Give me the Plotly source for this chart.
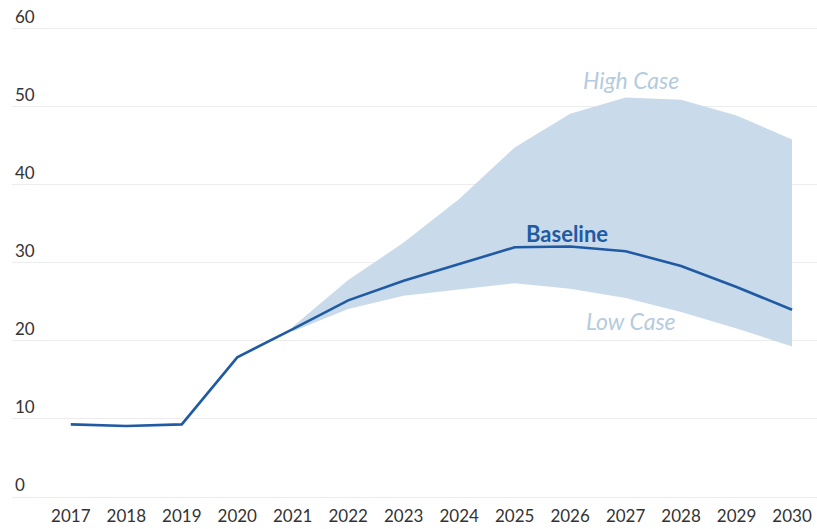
import plotly.graph_objects as go

years = list(range(2017, 2031))
baseline = [9.3, 9.1, 9.3, 17.9, 21.5, 25.2, 27.7, 29.9, 32.0, 32.1, 31.5, 29.6, 26.9, 24.0]
band_years = list(range(2021, 2031))
high_case = [21.8, 27.8, 32.6, 38.2, 44.8, 49.1, 51.2, 50.9, 48.9, 45.8]
low_case = [21.2, 24.1, 25.8, 26.6, 27.4, 26.7, 25.5, 23.7, 21.6, 19.3]
y_ticks = [0, 10, 20, 30, 40, 50, 60]

LINE = "#1f5aa3"
BAND = "#c9dbeb"
CASE_TXT = "#b5cbe0"
FONT = "Lato"

fig = go.Figure()
fig.add_trace(go.Scatter(x=band_years, y=low_case, mode="lines",
                         line=dict(width=0, color=BAND), hoverinfo="skip", showlegend=False))
fig.add_trace(go.Scatter(x=band_years, y=high_case, mode="lines", fill="tonexty",
                         fillcolor=BAND, line=dict(width=0, color=BAND),
                         hoverinfo="skip", showlegend=False))
fig.add_trace(go.Scatter(x=years, y=baseline, mode="lines",
                         line=dict(width=2.6, color=LINE), showlegend=False))

fig.add_annotation(x=2027.1, y=53.4, text="<i>High Case</i>", showarrow=False,
                   font=dict(family=FONT, size=23, color=CASE_TXT))
fig.add_annotation(x=2025.95, y=33.8, text="<b>Baseline</b>", showarrow=False,
                   font=dict(family=FONT, size=22, color=LINE))
fig.add_annotation(x=2027.1, y=22.6, text="<i>Low Case</i>", showarrow=False,
                   font=dict(family=FONT, size=23, color=CASE_TXT))

fig.update_layout(
    width=817, height=529,
    margin=dict(l=12, r=0, t=3, b=32, pad=0),
    plot_bgcolor="white", paper_bgcolor="white",
    font=dict(family=FONT, size=17, color="#333333"),
)
fig.update_xaxes(range=[2015.94, 2030.45], tickvals=years, automargin=False,
                 ticktext=[str(y) for y in years], showgrid=False, zeroline=False,
                 showline=False, ticks="", ticklabelstandoff=7,
                 tickfont=dict(size=17, color="#333333"))
fig.update_yaxes(range=[0, 63.3], tickvals=y_ticks, ticktext=[str(v) for v in y_ticks],
                 ticklabelposition="inside top", showgrid=True, gridcolor="#ececec",
                 gridwidth=1, zeroline=True, zerolinecolor="#ececec", zerolinewidth=1,
                 automargin=False,
                 showline=False, ticks="", tickfont=dict(size=17, color="#333333"))

fig.write_html("out.html", config={"displayModeBar": False},
               post_script="document.body.style.margin='0';")
